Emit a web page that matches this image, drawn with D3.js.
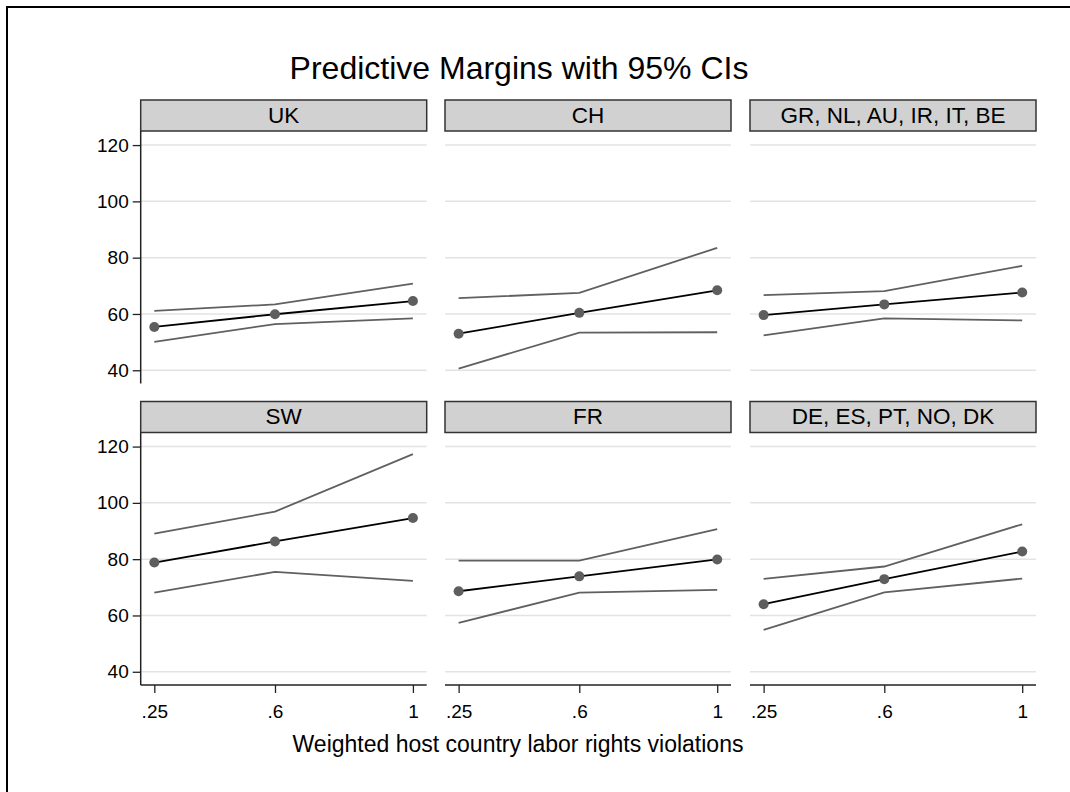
<!DOCTYPE html>
<html>
<head>
<meta charset="utf-8">
<script src="https://cdn.jsdelivr.net/npm/d3@7"></script>
<style>
  html, body { margin: 0; padding: 0; background: #fff; }
  svg { display: block; font-family: "Liberation Sans", Arial, sans-serif; }
</style>
</head>
<body>
<svg id="chart" width="1070" height="792"></svg>
<script>
// Panels (host-country groups), in reading order
const panels = ["UK", "CH", "GR, NL, AU, IR, IT, BE", "SW", "FR", "DE, ES, PT, NO, DK"];
// Evaluation points on the x axis
const xValues = [0.25, 0.6, 1];
const xTickLabels = [".25", ".6", "1"];
const yTicks = [40, 60, 80, 100, 120];

// Predictive margins per panel at each x value
const margin = [
  [55.4, 59.9, 64.6],
  [53.0, 60.4, 68.4],
  [59.6, 63.4, 67.6],
  [78.8, 86.3, 94.6],
  [68.6, 73.9, 79.9],
  [64.0, 72.9, 82.7]
];
// Lower 95% confidence bound
const lower = [
  [50.1, 56.4, 58.4],
  [40.6, 53.4, 53.5],
  [52.4, 58.4, 57.7],
  [68.1, 75.5, 72.3],
  [57.4, 68.1, 69.1],
  [54.9, 68.2, 73.1]
];
// Upper 95% confidence bound
const upper = [
  [61.1, 63.4, 70.8],
  [65.6, 67.5, 83.5],
  [66.7, 68.1, 77.1],
  [89.1, 96.9, 117.3],
  [79.5, 79.5, 90.7],
  [73.0, 77.4, 92.4]
];

const svg = d3.select("#chart");

// outer frame
svg.append("rect")
  .attr("x", 7).attr("y", 7)
  .attr("width", 1100).attr("height", 820)
  .attr("fill", "none").attr("stroke", "#000").attr("stroke-width", 2);

// layout of the 3 x 2 grid
const colLeft = [140.7, 445, 750];
const panelW = 286;
const rowTop = [131, 432.5];
const panelH = 252.5;
const stripH = 31;

const x = d3.scaleLinear().domain([0.2105, 1.04]);
const y = d3.scaleLinear().domain([35.3, 125]);

svg.append("text")
  .attr("x", 519).attr("y", 79)
  .attr("text-anchor", "middle")
  .attr("font-size", 32)
  .attr("fill", "#000")
  .text("Predictive Margins with 95% CIs");

panels.forEach((name, i) => {
  const r = Math.floor(i / 3), c = i % 3;
  const left = colLeft[c], top = rowTop[r];
  const xs = x.copy().range([left, left + panelW]);
  const ys = y.copy().range([top + panelH, top]);
  const g = svg.append("g");

  // strip header
  g.append("rect")
    .attr("x", left).attr("y", top - stripH)
    .attr("width", panelW).attr("height", stripH)
    .attr("fill", "#d1d1d1").attr("stroke", "#333").attr("stroke-width", 1.5);
  g.append("text")
    .attr("x", left + panelW / 2).attr("y", top - 8.5)
    .attr("text-anchor", "middle")
    .attr("font-size", 22.5)
    .attr("fill", "#000")
    .text(name);

  // horizontal gridlines
  g.selectAll("line.grid").data(yTicks).enter().append("line")
    .attr("class", "grid")
    .attr("x1", left).attr("x2", left + panelW)
    .attr("y1", d => ys(d)).attr("y2", d => ys(d))
    .attr("stroke", "#e3e3e3").attr("stroke-width", 1.5);

  // y axis only on the first column
  if (c === 0) {
    const ax = g.append("g")
      .attr("transform", `translate(${left},0)`)
      .call(d3.axisLeft(ys).tickValues(yTicks).tickSize(8).tickPadding(4).tickFormat(d3.format("d")));
    ax.select(".domain").attr("stroke", "#222").attr("stroke-width", 1.5).attr("d", `M0,${top}V${top + panelH}`);
    ax.selectAll(".tick line").attr("stroke", "#222").attr("stroke-width", 1.3);
    ax.selectAll(".tick text").attr("font-size", 19).attr("fill", "#000")
      .attr("font-family", "Liberation Sans, Arial, sans-serif");
  }

  // x axis only on the bottom row
  if (r === 1) {
    const ax = g.append("g")
      .attr("transform", `translate(0,${top + panelH})`)
      .call(d3.axisBottom(xs).tickValues(xValues).tickSize(8).tickPadding(12)
        .tickFormat((d, k) => xTickLabels[k]));
    ax.select(".domain").attr("stroke", "#222").attr("stroke-width", 1.5).attr("d", `M${left},0H${left + panelW}`);
    ax.selectAll(".tick line").attr("stroke", "#222").attr("stroke-width", 1.3);
    ax.selectAll(".tick text").attr("font-size", 19).attr("fill", "#000")
      .attr("font-family", "Liberation Sans, Arial, sans-serif");
  }

  const line = d3.line().x((d, k) => xs(xValues[k])).y(d => ys(d));

  // confidence bounds
  [lower[i], upper[i]].forEach(arr => {
    g.append("path").datum(arr)
      .attr("d", line)
      .attr("fill", "none").attr("stroke", "#606060").attr("stroke-width", 1.8);
  });

  // margin line and points
  g.append("path").datum(margin[i])
    .attr("d", line)
    .attr("fill", "none").attr("stroke", "#000").attr("stroke-width", 1.8);
  g.selectAll("circle").data(margin[i]).enter().append("circle")
    .attr("cx", (d, k) => xs(xValues[k]))
    .attr("cy", d => ys(d))
    .attr("r", 5)
    .attr("fill", "#5e5e5e");
});

svg.append("text")
  .attr("x", 518).attr("y", 752)
  .attr("text-anchor", "middle")
  .attr("font-size", 23)
  .attr("fill", "#000")
  .text("Weighted host country labor rights violations");
</script>
</body>
</html>
